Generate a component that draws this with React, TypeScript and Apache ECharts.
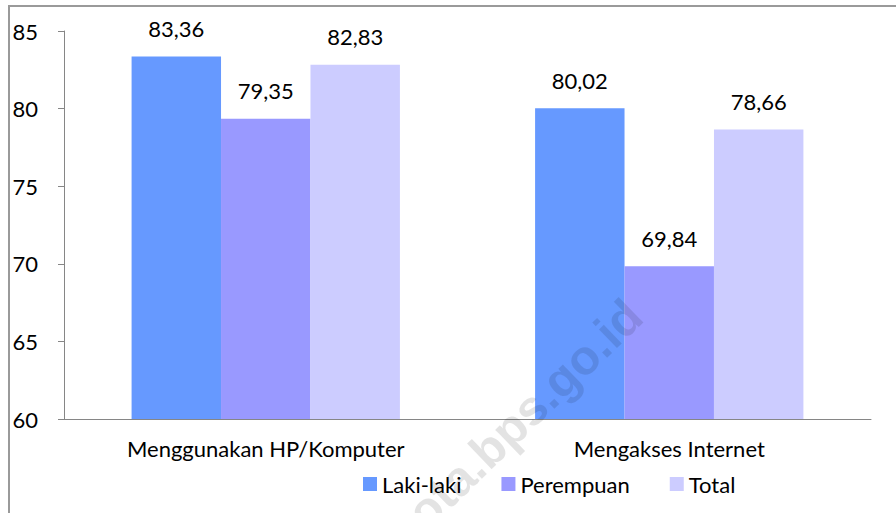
import React, { useEffect, useRef } from "react";
import * as echarts from "echarts";

const categories = ["Menggunakan HP/Komputer", "Mengakses Internet"];
const seriesNames = ["Laki-laki", "Perempuan", "Total"];
const lakiLaki = [83.36, 80.02];
const perempuan = [79.35, 69.84];
const total = [82.83, 78.66];
const colors = ["#6699FF", "#9999FF", "#CCCCFF"];
const watermark = "kota.bps.go.id";

const FONT = "Lato, 'Open Sans', sans-serif";

export default function App() {
  const ref = useRef<HTMLDivElement>(null);
  useEffect(() => {
    if (!ref.current) return;
    const chart = echarts.init(ref.current, null, { renderer: "svg" });
    const fmt = (p: any) => Number(p.value).toFixed(2).replace(".", ",");
    const values = [lakiLaki, perempuan, total];
    chart.setOption({
      animation: false,
      textStyle: { fontFamily: FONT },
      grid: { left: 64, right: 25, top: 31, bottom: 94, containLabel: false },
      legend: {
        left: 358,
        top: 468,
        itemWidth: 14,
        itemHeight: 14,
        itemGap: 40,
        icon: "rect",
        textStyle: { fontSize: 22, color: "#000", fontFamily: FONT },
        data: seriesNames,
      },
      xAxis: {
        type: "category",
        data: categories,
        axisLine: { lineStyle: { color: "#868686", width: 1 } },
        axisTick: { length: 7, lineStyle: { color: "#868686" } },
        axisLabel: { fontSize: 22, color: "#000", margin: 18, fontFamily: FONT },
        splitLine: { show: false },
      },
      yAxis: {
        type: "value",
        min: 60,
        max: 85,
        interval: 5,
        axisLine: { show: true, lineStyle: { color: "#868686", width: 1 } },
        axisTick: { show: true, length: 6, lineStyle: { color: "#868686" } },
        axisLabel: { fontSize: 22, color: "#000", margin: 26, fontFamily: FONT },
        splitLine: { show: false },
      },
      series: seriesNames.map((name, i) => ({
        name,
        type: "bar",
        data: values[i],
        barGap: "0%",
        barCategoryGap: "33.5%",
        itemStyle: { color: colors[i] },
        label: {
          show: true,
          position: "top",
          distance: 17,
          fontSize: 22,
          color: "#000",
          fontFamily: FONT,
          formatter: fmt,
        },
      })),
      graphic: [
        {
          type: "rect",
          shape: { x: 9, y: 6, width: 1000, height: 1000 },
          style: { fill: "none", stroke: "#9a9a9a", lineWidth: 2 },
          silent: true,
          z: 0,
        },
        {
          type: "text",
          x: 634,
          y: 308,
          rotation: (44 * Math.PI) / 180,
          silent: true,
          z: 100,
          style: {
            text: watermark,
            font: "bold 49px 'Liberation Sans', Arial, sans-serif",
            fill: "rgba(0,0,0,0.11)",
            align: "right",
            verticalAlign: "middle",
          },
        },
      ],
    });
    return () => chart.dispose();
  }, []);
  return (
    <div
      ref={ref}
      style={{ position: "absolute", left: 0, top: 0, width: 896, height: 513, background: "#fff" }}
    />
  );
}
